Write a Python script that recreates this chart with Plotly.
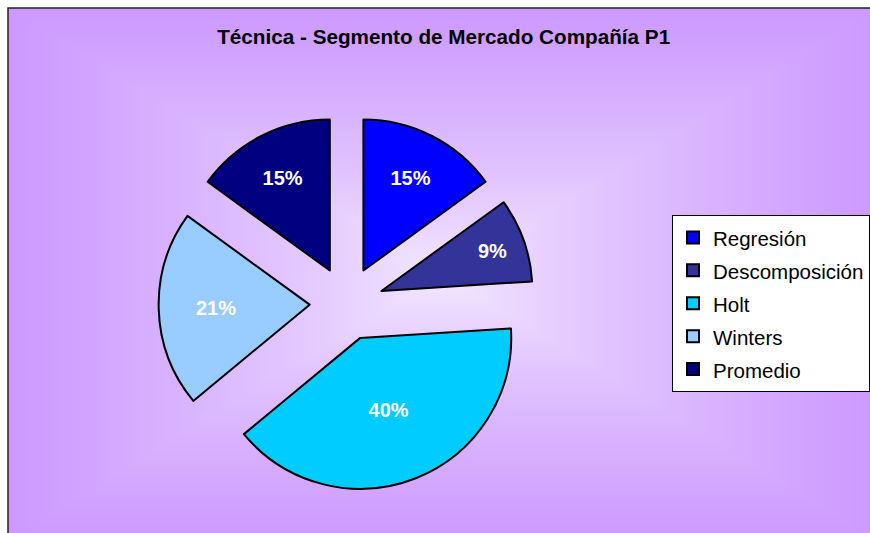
import zlib, struct, base64
import numpy as np
import plotly.graph_objects as go

# ---- data ----
labels = ["Regresión", "Descomposición", "Holt", "Winters", "Promedio"]
values = [15, 9, 40, 21, 15]
colors = ["#0000FF", "#333399", "#00CCFF", "#99CCFF", "#000080"]
title_text = "Técnica - Segmento de Mercado Compañía P1"

W, H = 870, 533


def gradient_png(w, h, center_rgb, edge_rgb, gamma=0.75):
    ys, xs = np.mgrid[0:h, 0:w].astype(float)
    cx, cy = (w - 1) / 2.0, (h - 1) / 2.0
    t = np.maximum(np.abs(xs - cx) / (w / 2.0), np.abs(ys - cy) / (h / 2.0))
    t = np.clip(t, 0, 1) ** gamma
    c = np.array(center_rgb, float)
    e = np.array(edge_rgb, float)
    img = (c[None, None, :] + (e - c)[None, None, :] * t[..., None]).round().astype(np.uint8)
    raw = b"".join(b"\x00" + img[r].tobytes() for r in range(h))

    def chunk(tag, data):
        out = struct.pack(">I", len(data)) + tag + data
        return out + struct.pack(">I", zlib.crc32(tag + data) & 0xFFFFFFFF)

    png = (b"\x89PNG\r\n\x1a\n"
           + chunk(b"IHDR", struct.pack(">IIBBBBB", w, h, 8, 2, 0, 0, 0))
           + chunk(b"IDAT", zlib.compress(raw, 9))
           + chunk(b"IEND", b""))
    return "data:image/png;base64," + base64.b64encode(png).decode()


bg = gradient_png(435, 267, (245, 236, 255), (204, 153, 255))

legend_labels = ['<span style="font-size:20.5px">' + l + '</span>' for l in labels]

fig = go.Figure(go.Pie(
    labels=legend_labels,
    values=values,
    marker=dict(colors=colors, line=dict(color="#000000", width=2)),
    sort=False,
    direction="clockwise",
    rotation=0,
    pull=[0.245] * len(values),
    texttemplate="%{percent:.0%}",
    textposition="inside",
    insidetextorientation="horizontal",
    insidetextfont=dict(color="#FFFFFF", size=20, family="Liberation Sans", weight="bold"),
    hoverinfo="label+percent",
    domain=dict(x=[0.1823, 0.6145], y=[0.0779, 0.7833]),
))

fig.update_layout(
    width=W, height=H,
    margin=dict(l=0, r=0, t=0, b=0, autoexpand=False),
    paper_bgcolor="#FFFFFF",
    plot_bgcolor="rgba(0,0,0,0)",
    font=dict(family="Liberation Sans", color="#000000"),
    title=dict(text="<b>" + title_text + "</b>", x=0.51, xanchor="center",
               y=1 - 37 / H, yanchor="middle", yref="container",
               font=dict(size=20.7, family="Liberation Sans", color="#000000")),
    showlegend=True,
    legend=dict(
        x=672 / W, xanchor="left", y=1 - 215 / H, yanchor="top",
        bgcolor="#FFFFFF", bordercolor="#000000", borderwidth=1,
        font=dict(size=23, family="Liberation Sans", color="#000000"),
        traceorder="normal",
    ),
    images=[dict(source=bg, xref="paper", yref="paper",
                 x=8 / W, y=1 - 8 / H, sizex=1.0, sizey=1.0,
                 xanchor="left", yanchor="top", sizing="stretch", layer="below")],
    shapes=[dict(type="rect", xref="paper", yref="paper",
                 x0=8 / W, x1=1.05, y0=-0.05, y1=1 - 8 / H,
                 line=dict(color="#222222", width=1.5), layer="below")],
)

fig.write_html("out.html", config={"displayModeBar": False},
               post_script="document.body.style.margin='0';")
